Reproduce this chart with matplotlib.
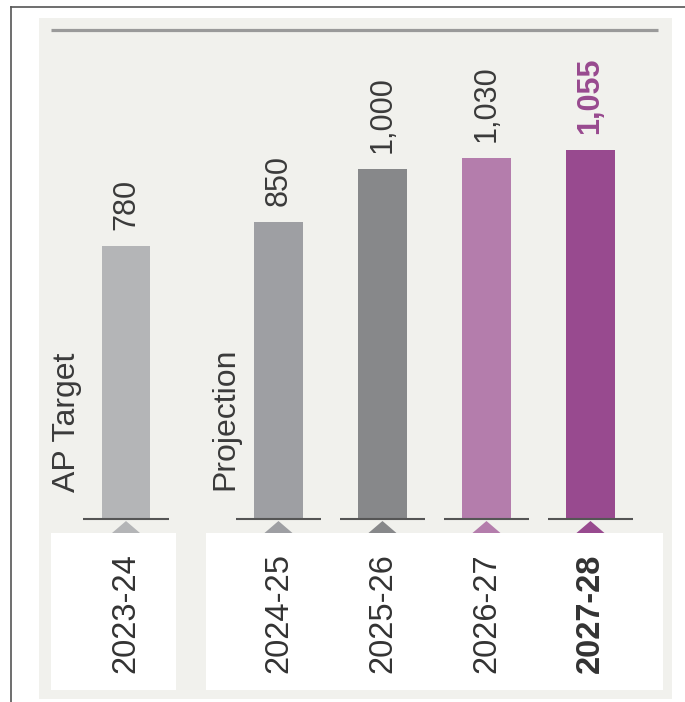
import matplotlib
matplotlib.use("Agg")
import matplotlib.pyplot as plt
from matplotlib.patches import Rectangle, Polygon
from matplotlib.lines import Line2D

plt.rcParams['font.family'] = ['Liberation Sans', 'DejaVu Sans']

# ---- data ----
years = ["2023-24", "2024-25", "2025-26", "2026-27", "2027-28"]
values = [780, 850, 1000, 1030, 1055]
value_labels = ["780", "850", "1,000", "1,030", "1,055"]
group_labels = ["AP Target", "Projection"]
bar_colors = ["#b4b5b7", "#9e9fa3", "#87888a", "#b47dac", "#984a8f"]
label_colors = ["#3a3a3a", "#3a3a3a", "#3a3a3a", "#3a3a3a", "#984a8f"]
label_weights = ["normal", "normal", "normal", "normal", "bold"]
year_weights = ["normal", "normal", "normal", "normal", "bold"]

W, H = 685, 702
fig = plt.figure(figsize=(W / 100, H / 100), dpi=100)
fig.patch.set_facecolor("white")

# background axes in pixel coordinates for decorations
bg = fig.add_axes([0, 0, 1, 1])
bg.set_xlim(0, W)
bg.set_ylim(H, 0)
bg.axis("off")
bg.add_line(Line2D([11, 11], [7, H], color="#555555", lw=1.2))
bg.add_line(Line2D([11, W], [7, 7], color="#555555", lw=1.2))
bg.add_patch(Rectangle((39, 18), 633, 681, facecolor="#f1f1ed", edgecolor="none"))
bg.add_line(Line2D([51, 658], [30, 30], color="#9a9a9a", lw=2.3, solid_capstyle="butt"))

# data axes: 0 value at y=519 px, 0.35 px per unit; 104 px per slot
px_per_val = 0.35
base_px = 519
slot_px = 104
x0_px = 126
ax = fig.add_axes([0, 0, 1, 1])
ax.set_ylim((base_px - H) / px_per_val, base_px / px_per_val)
ax.set_xlim(-x0_px / slot_px, (W - x0_px) / slot_px)
ax.axis("off")
ax.patch.set_alpha(0)

gap = 0.466
xs = [0] + [i + gap for i in range(1, len(values))]
bw = 0.466

def vy(px):
    return (base_px - px) / px_per_val

# white label boxes
ax.add_patch(Rectangle((xs[0] - 75 / slot_px, vy(690)), 125 / slot_px, vy(533) - vy(690),
                       facecolor="white", edgecolor="none", zorder=1))
ax.add_patch(Rectangle((xs[1] - 72.5 / slot_px, vy(690)), (xs[-1] - xs[1]) + 145 / slot_px,
                       vy(533) - vy(690), facecolor="white", edgecolor="none", zorder=1))

ax.bar(xs, values, width=bw, color=bar_colors, zorder=2)

for x, v, lab, c, w, yr, yw, bc in zip(xs, values, value_labels, label_colors,
                                        label_weights, years, year_weights, bar_colors):
    ax.annotate(lab, (x, v), xytext=(0, 16), textcoords="offset pixels",
                rotation=90, ha="center", va="bottom", fontsize=22,
                color=c, fontweight=w, zorder=3)
    # baseline
    ax.plot([x - 0.41, x + 0.41], [0, 0], color="#555555", lw=1.5, zorder=3,
            solid_capstyle="butt")
    # triangle marker
    ax.add_patch(Polygon([[x - 14 / slot_px, vy(533)], [x + 14 / slot_px, vy(533)],
                          [x, vy(521)]], closed=True, facecolor=bc, edgecolor="none",
                         zorder=2))
    ax.text(x, vy(673), yr, rotation=90, ha="center", va="bottom", fontsize=23.5,
            color="#333333", fontweight=yw, zorder=3)

ax.text(xs[0] - 58.5 / slot_px, vy(492), group_labels[0], rotation=90, ha="center",
        va="bottom", fontsize=23, color="#3a3a3a", zorder=3)
ax.text(xs[1] - 53.5 / slot_px, vy(490), group_labels[1], rotation=90, ha="center",
        va="bottom", fontsize=23, color="#3a3a3a", zorder=3)

fig.savefig("out.png", dpi=100)
